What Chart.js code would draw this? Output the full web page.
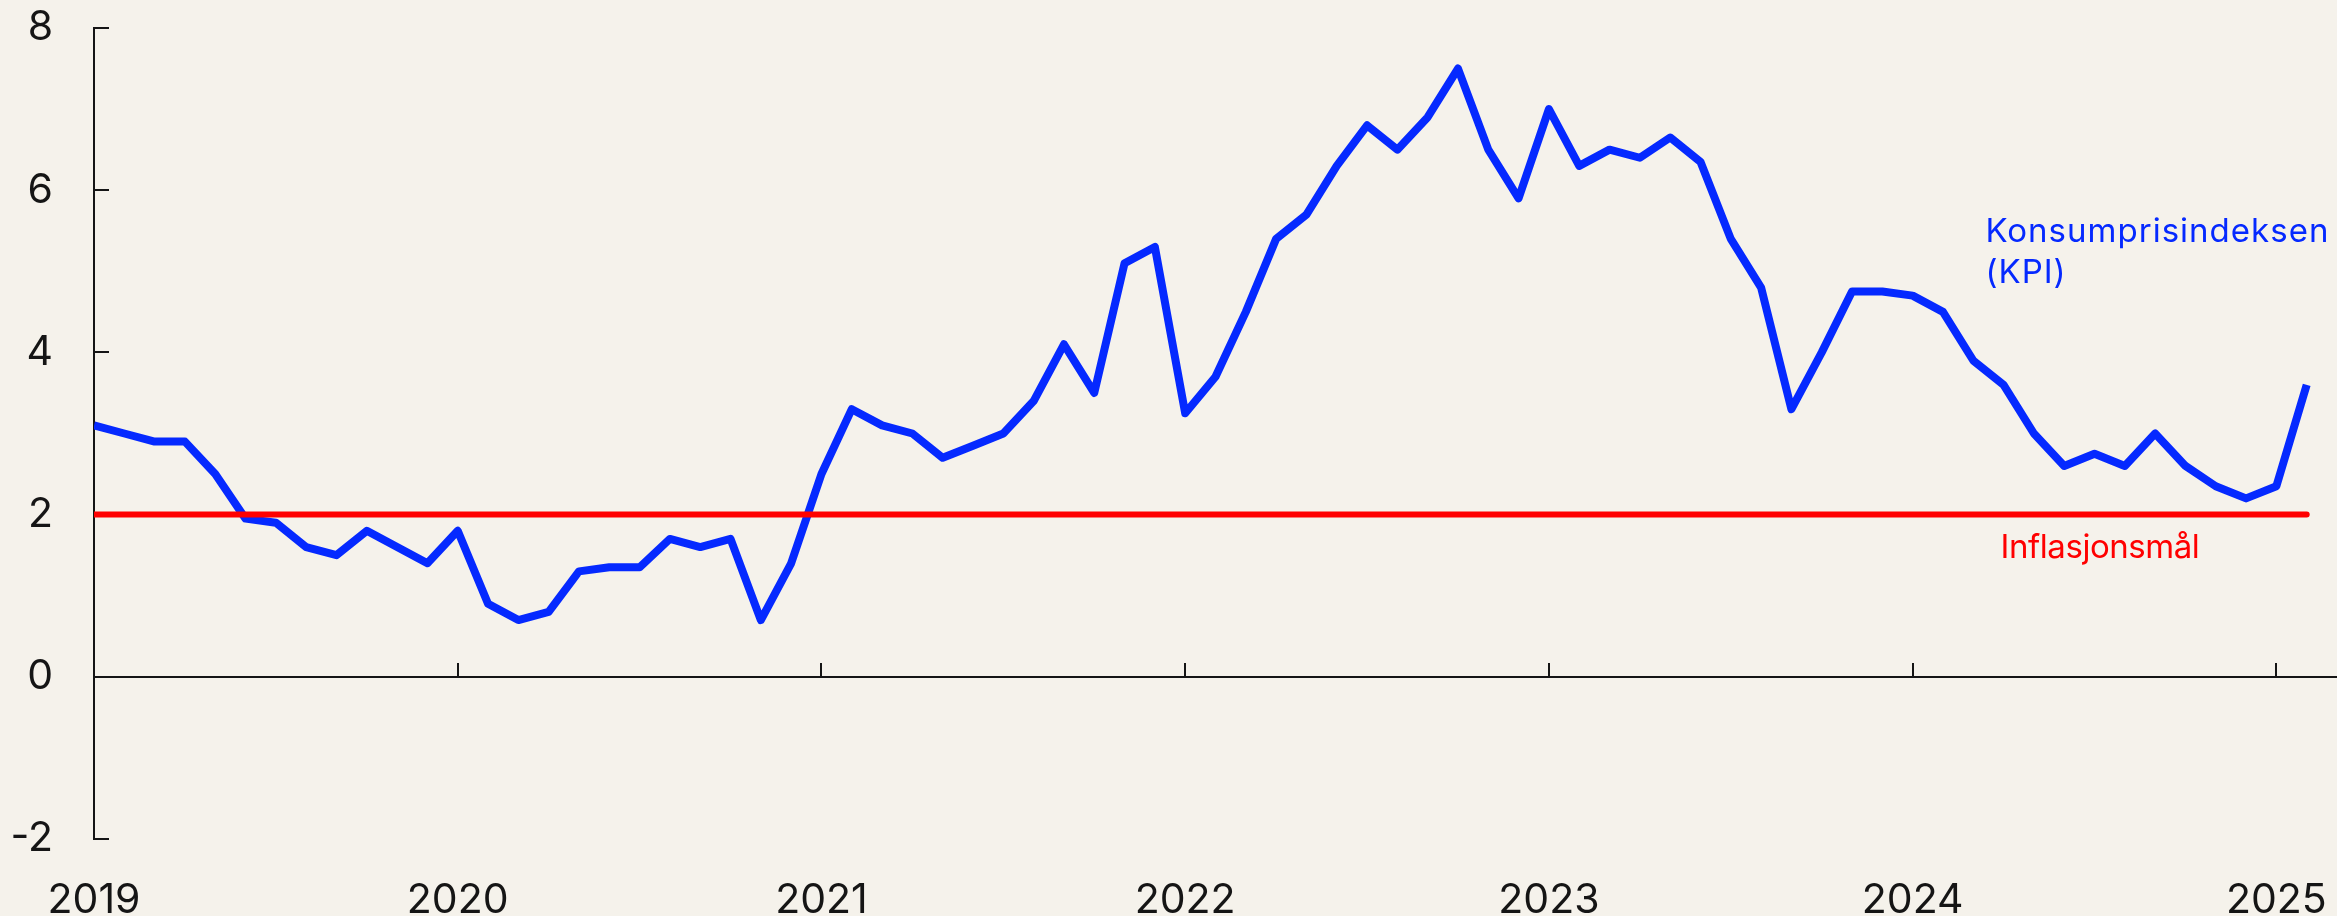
<!DOCTYPE html>
<html>
<head>
<meta charset="utf-8">
<script src="https://cdn.jsdelivr.net/npm/chart.js@4/dist/chart.umd.min.js"></script>
<style>
  html, body { margin: 0; padding: 0; background: #f5f2eb; }
  canvas { display: block; }
</style>
</head>
<body>
<canvas id="kpiChart" width="2337" height="916"></canvas>
<script>
// year tick labels, one per January
const years = ['2019', '2020', '2021', '2022', '2023', '2024', '2025'];
const yTicks = [-2, 0, 2, 4, 6, 8];

// KPI, 12-month change in %, monthly from Jan 2019
const kpi2019 = [3.1, 3.0, 2.9, 2.9, 2.5, 1.95, 1.9, 1.6, 1.5, 1.8, 1.6, 1.4];
const kpi2020 = [1.8, 0.9, 0.7, 0.8, 1.3, 1.35, 1.35, 1.7, 1.6, 1.7, 0.7, 1.4];
const kpi2021 = [2.5, 3.3, 3.1, 3.0, 2.7, 2.85, 3.0, 3.4, 4.1, 3.5, 5.1, 5.3];
const kpi2022 = [3.25, 3.7, 4.5, 5.4, 5.7, 6.3, 6.8, 6.5, 6.9, 7.5, 6.5, 5.9];
const kpi2023 = [7.0, 6.3, 6.5, 6.4, 6.65, 6.35, 5.4, 4.8, 3.3, 4.0, 4.75, 4.75];
const kpi2024 = [4.7, 4.5, 3.9, 3.6, 3.0, 2.6, 2.75, 2.6, 3.0, 2.6, 2.35, 2.2];
const kpi2025 = [2.35, 3.6];
const kpi = [].concat(kpi2019, kpi2020, kpi2021, kpi2022, kpi2023, kpi2024, kpi2025);

const inflationTarget = 2;

const blue = '#0529ff';
const red = '#ff0000';
const ink = '#151515';
const font = 'Inter, "Noto Sans", sans-serif';

// text labels: [text, x (month index), y (value at baseline), colour, width in px]
const notes = [
  ['Konsumprisindeksen', 62.4, 5.36, blue, 344],
  ['(KPI)', 62.4, 4.85, blue, 0],
  ['Inflasjonsmål', 62.9, 1.47, red, 212]
];

const lastIndex = kpi.length - 1;
const yearTicks = s => { s.ticks = years.map((y, i) => ({value: i * 12})) };

const notesPlugin = {
  id: 'notes',
  afterDatasetsDraw(chart) {
    const ctx = chart.ctx;
    const xs = chart.scales.x, ys = chart.scales.y;
    ctx.save();
    ctx.font = '33px ' + font;
    ctx.textBaseline = 'alphabetic';
    ctx.textAlign = 'left';
    // the original font is wider, spread letters to the same width
    let spacing = 0;
    const w0 = ctx.measureText(notes[0][0]).width;
    spacing = (notes[0][4] - w0) / notes[0][0].length;
    notes.forEach(n => {
      let sp = spacing;
      if (n[4]) sp = (n[4] - ctx.measureText(n[0]).width) / n[0].length;
      ctx.letterSpacing = sp + 'px';
      ctx.fillStyle = n[3];
      ctx.fillText(n[0], xs.getPixelForValue(n[1]), ys.getPixelForValue(n[2]));
    });
    ctx.restore();
  }
};

const data = {
  datasets: [{
    label: 'Inflasjonsmål',
    data: [{x: 0, y: inflationTarget}, {x: lastIndex, y: inflationTarget}],
    borderColor: red,
    borderWidth: 6,
    borderCapStyle: 'round',
    pointRadius: 0
  }, {
    label: 'Konsumprisindeksen (KPI)',
    data: kpi.map((v, i) => ({x: i, y: v})),
    borderColor: blue,
    borderWidth: 8,
    borderJoinStyle: 'round',
    pointRadius: 0,
    tension: 0
  }]
};

const config = {
  type: 'line',
  data: data,
  plugins: [notesPlugin],
  options: {
    responsive: false,
    animation: false,
    layout: {
      padding: {top: 28, right: 0, left: 0, bottom: 0}
    },
    scales: {
      x: {
        type: 'linear',
        min: 0,
        max: 74,
        position: 'bottom',
        border: {display: false},
        grid: {display: false, drawTicks: false},
        afterBuildTicks: yearTicks,
        afterFit: s => {
          s.height = 77;
          s.paddingLeft = 0;
          s.paddingRight = 0;
        },
        ticks: {
          callback: v => years[v / 12],
          color: ink,
          font: {family: font, size: 41},
          padding: 37,
          maxRotation: 0,
          autoSkip: false
        }
      },
      // axis line at zero with the year tick marks
      x0: {
        type: 'linear',
        axis: 'x',
        min: 0,
        max: 74,
        position: {y: 0},
        border: {display: true, color: ink, width: 2},
        grid: {drawOnChartArea: false, drawTicks: true, tickLength: -15, color: ink, lineWidth: 2},
        afterBuildTicks: yearTicks,
        ticks: {display: false}
      },
      y: {
        min: -2,
        max: 8,
        border: {display: true, color: ink, width: 2},
        grid: {drawOnChartArea: false, drawTicks: true, tickLength: -15, color: ink, lineWidth: 2},
        afterBuildTicks: s => { s.ticks = yTicks.map(v => ({value: v})) },
        afterFit: s => {
          s.width = 94;
          s.paddingTop = 0;
          s.paddingBottom = 0;
        },
        ticks: {
          color: ink,
          font: {family: font, size: 41},
          padding: 56
        }
      }
    },
    plugins: {
      legend: {display: false},
      tooltip: {enabled: false}
    }
  }
};

const kpiChart = new Chart(document.getElementById('kpiChart'), config);
</script>
</body>
</html>
